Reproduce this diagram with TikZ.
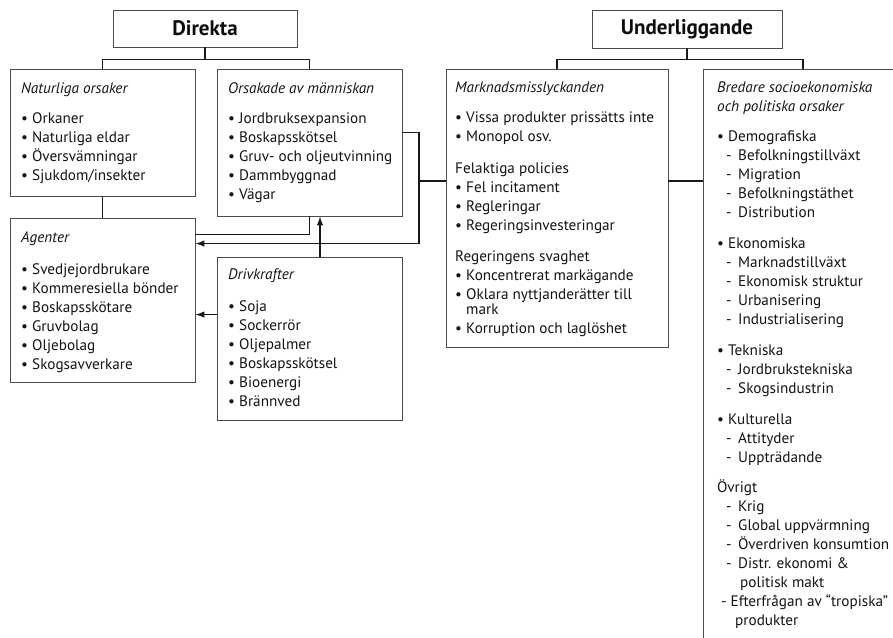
\documentclass[tikz,border=0pt]{standalone}
\usepackage{fontspec}
\setmainfont{PT Sans}
\usetikzlibrary{arrows.meta,calc,shadows}
\newcommand\itm[1]{\makebox[11pt][l]{•}#1}
\newcommand\subi[1]{\hspace*{9pt}\makebox[12pt][l]{-}#1}
\begin{document}
\begin{tikzpicture}[x=1pt,y=-1pt,
  box/.style={draw=black!70, line width=0.9pt, fill=white, rectangle, inner sep=0pt,
    drop shadow={shadow xshift=1.3pt,shadow yshift=-1.3pt,opacity=0.3}},
  head/.style={box, font=\fontsize{21}{24}\selectfont\bfseries, text=black!95},
  txt/.style={anchor=north west, inner sep=0pt, align=left,
    font=\fontsize{15.2}{19}\selectfont, text=black!92},
  con/.style={draw=black!90, line width=1.1pt},
  arr/.style={con, -{Latex[length=9pt,width=6.5pt]}}]
\useasboundingbox (0,0) rectangle (893,637);

% boxes
\node[head, minimum width=184pt, minimum height=37pt] (dir) at (205,28.5) {Direkta};
\node[head, minimum width=190pt, minimum height=38pt] (und) at (687,29) {Underliggande};
\node[box, minimum width=185pt, minimum height=127pt] (nat) at (102.5,132.5) {};
\node[box, minimum width=185pt, minimum height=147pt] (ors) at (309.5,142.5) {};
\node[box, minimum width=185pt, minimum height=164pt] (age) at (102.5,300) {};
\node[box, minimum width=185pt, minimum height=163pt] (dri) at (309.5,338.5) {};
\node[box, minimum width=222pt, minimum height=278pt] (mar) at (557,208) {};
\node[box, minimum width=200pt, minimum height=600pt] (bre) at (803,369) {};

% texts
\node[txt] (natT) at (21,82) {\textit{Naturliga orsaker}\\[11pt]
  \itm{Orkaner}\\ \itm{Naturliga eldar}\\ \itm{Översvämningar}\\ \itm{Sjukdom/insekter}};
\node[txt] (orsT) at (228,82) {\textit{Orsakade av människan}\\[11pt]
  \itm{Jordbruksexpansion}\\ \itm{Boskapsskötsel}\\ \itm{Gruv- och oljeutvinning}\\
  \itm{Dammbyggnad}\\ \itm{Vägar}};
\node[txt] (ageT) at (21,231) {\textit{Agenter}\\[13pt]
  \itm{Svedjejordbrukare}\\ \itm{Kommeresiella bönder}\\ \itm{Boskapsskötare}\\
  \itm{Gruvbolag}\\ \itm{Oljebolag}\\ \itm{Skogsavverkare}};
\node[txt] (driT) at (228,268) {\textit{Drivkrafter}\\[13pt]
  \itm{Soja}\\ \itm{Sockerrör}\\ \itm{Oljepalmer}\\ \itm{Boskapsskötsel}\\
  \itm{Bioenergi}\\ \itm{Brännved}};
\node[txt] (marT) at (455,82) {\textit{Marknadsmisslyckanden}\\[11pt]
  \itm{Vissa produkter prissätts inte}\\ \itm{Monopol osv.}\\[13pt]
  Felaktiga policies\\ \itm{Fel incitament}\\ \itm{Regleringar}\\ \itm{Regeringsinvesteringar}\\[12pt]
  Regeringens svaghet\\ \itm{Koncentrerat markägande}\\ \itm{Oklara nyttjanderätter till}\\[-4pt]
  \hspace*{11pt}mark\\ \itm{Korruption och laglöshet}};
\node[txt] (breT) at (717,82) {\textit{Bredare socioekonomiska}\\ \textit{och politiska orsaker}\\[11pt]
  \itm{Demografiska}\\ \subi{Befolkningstillväxt}\\ \subi{Migration}\\ \subi{Befolkningstäthet}\\ \subi{Distribution}\\[12pt]
  \itm{Ekonomiska}\\ \subi{Marknadstillväxt}\\ \subi{Ekonomisk struktur}\\ \subi{Urbanisering}\\ \subi{Industrialisering}\\[12pt]
  \itm{Tekniska}\\ \subi{Jordbrukstekniska}\\ \subi{Skogsindustrin}\\[12pt]
  \itm{Kulturella}\\ \subi{Attityder}\\ \subi{Uppträdande}\\[11pt]
  Övrigt\\ \subi{Krig}\\ \subi{Global uppvärmning}\\ \subi{Överdriven konsumtion}\\
  \subi{Distr. ekonomi \&}\\ \hspace*{23pt}politisk makt\\
  \hspace*{4pt}- Efterfrågan av “tropiska”\\ \hspace*{18pt}produkter};

% connectors
\coordinate (jn) at (419,181);
\draw[con] (dir.south) -- ++(0,12) -| (nat.north);
\draw[con] (dir.south) ++(0,12) -| (ors.north);
\draw[con] (und.south) -- ++(0,11) -| (mar.north);
\draw[con] (und.south) ++(0,11) -| (bre.north);
\draw[con] (nat.south) -- (age.north);
\draw[con] (ors.south) |- ($(age.north east)+(0,17)$);
\draw[arr] ($(ors.north east)+(0,64)$) -| (jn) |- ($(age.north east)+(0,26)$);
\draw[con] (mar.west |- jn) -- (jn);
\draw[con] (mar.east |- jn) -- (bre.west |- jn);
\draw[arr] ($(dri.north)+(10.5,0)$) -- ($(ors.south)+(10.5,0)$);
\draw[arr] ($(dri.north west)+(0,58)$) -- ($(age.north east)+(0,97)$);
\end{tikzpicture}
\end{document}
